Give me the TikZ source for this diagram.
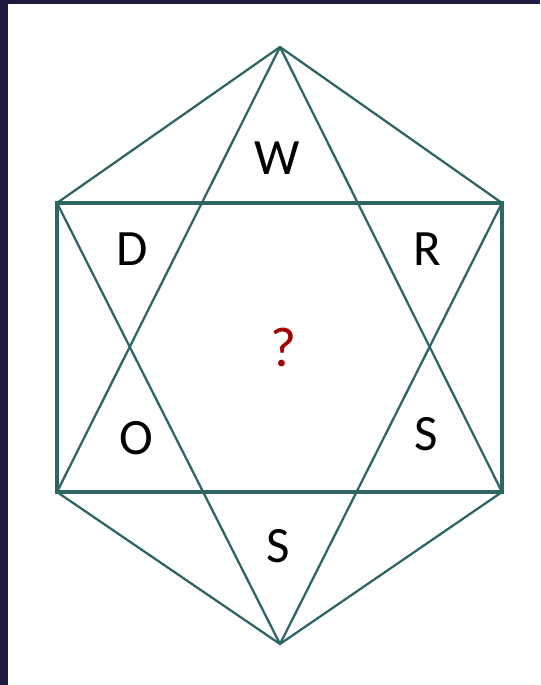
\documentclass[tikz,border=0pt]{standalone}
\usepackage{fontspec}
\setmainfont{Carlito}
\usepackage{xcolor}
\usetikzlibrary{positioning}
\definecolor{frame}{HTML}{1F1A40}
\definecolor{edge}{HTML}{2E6665}
\definecolor{qred}{HTML}{A00000}

\begin{document}
\begin{tikzpicture}[x=0.02cm,y=-0.02cm]
  \tikzstyle{side}=[draw=edge,line width=2.1pt,line cap=round]
  \tikzstyle{diag}=[draw=edge,line width=1.3pt,line cap=round]
  \tikzstyle{letter}=[font=\fontsize{29}{31}\selectfont,text=black,inner sep=0pt]
  \fill[frame] (0,0) rectangle (540,685);
  \fill[white] (8,4) rectangle (540,685);
  \useasboundingbox (0,0) rectangle (540,685);
  \coordinate (top) at (280,47);
  \coordinate (bot) at (280,644);
  \coordinate (tl) at (57,203);
  \coordinate (tr) at (502,203);
  \coordinate (bl) at (57,492);
  \coordinate (br) at (502,492);
  % outer hexagon
  \foreach \a/\b in {top/tl,top/tr,bot/bl,bot/br}
    \draw[diag] (\a) -- (\b);
  % the two triangles
  \foreach \a/\b in {top/bl,top/br,bot/tl,bot/tr}
    \draw[diag] (\a) -- (\b);
  \draw[side] (tl) rectangle (br);
  \node[letter] (w) at (277,158) {W};
  \node[letter] (d) at (132,249) {D};
  \node[letter] (r) at (427,249) {R};
  \node[letter] (o) at (136,438) {O};
  \node[letter] (s1) at (426,434) {S};
  \node[letter] (s2) at (278,546) {S};
  \node[letter,text=qred,font=\fontsize{32}{34}\selectfont] (q) at (284,347) {?};
\end{tikzpicture}
\end{document}
